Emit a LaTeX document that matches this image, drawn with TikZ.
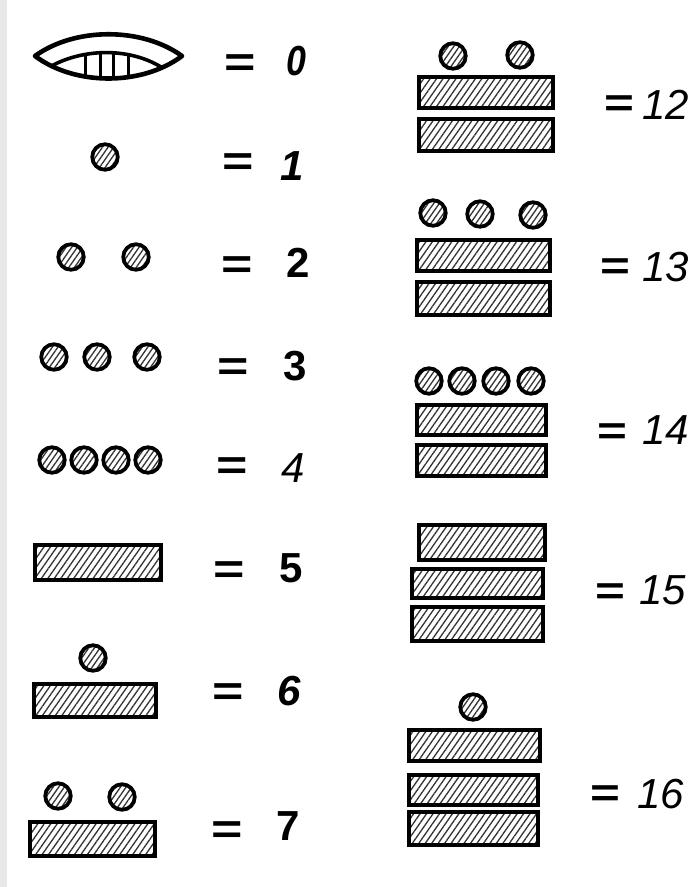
\documentclass[tikz,border=0pt]{standalone}
\usepackage{fontspec}
\setmainfont{Liberation Sans}
\usetikzlibrary{patterns.meta}
\newcommand{\wideeq}{\scalebox{1.28}[1]{=}}
\tikzset{
  hatch/.style={pattern={Lines[angle=55,distance=5.3pt,line width=1.3pt]},pattern color=black!80},
  dot/.style={circle,draw,line width=3.8pt,minimum size=25.5pt,inner sep=0pt,
    pattern={Lines[angle=55,distance=4.6pt,line width=1.3pt]},pattern color=black!80},
  bar/.style={rectangle,draw,line width=4pt,inner sep=0pt,hatch},
  eqB/.style={font=\fontsize{42}{42}\selectfont\bfseries,inner sep=0pt,anchor=base},
  eqR/.style={font=\fontsize{40}{40}\selectfont\bfseries,inner sep=0pt,anchor=base},
  numB/.style={font=\fontsize{42}{42}\selectfont\bfseries,inner sep=0pt,anchor=base},
  numBI/.style={font=\fontsize{42}{42}\selectfont\bfseries\itshape,inner sep=0pt,anchor=base},
  numI/.style={font=\fontsize{42}{42}\selectfont\itshape,inner sep=0pt,anchor=base},
  shell/.style={line width=4.6pt,line join=round},
}
\begin{document}
\begin{tikzpicture}[x=1pt,y=-1pt]
\useasboundingbox (0,0) rectangle (696,887);
\fill[white] (0,0) rectangle (696,887);
\fill[gray!18] (0,0) rectangle (7,887);

% ---- zero (shell)
\draw[shell] (35,56) .. controls (75,27) and (142,27) .. (182,56)
             .. controls (142,86) and (75,86) .. (35,56) -- cycle;
\begin{scope}
  \clip (52,65.7) .. controls (85,48) and (130,48) .. (161,67)
        .. controls (130,82) and (85,82) .. (52,65.7) -- cycle;
  \foreach \xx in {85,100,113,128} \draw[line width=3pt] (\xx,40) -- (\xx,90);
\end{scope}
\draw[line width=3.6pt] (52,65.7) .. controls (85,48) and (130,48) .. (161,67);
\node[eqB] (e0) at (240,76) {\wideeq};
\node[numBI] (n0) at (296,75) {\scalebox{0.85}[1]{0}};

% ---- one
\node[dot] (d1a) at (105,157) {};
\node[eqB] (e1) at (238,175) {\wideeq};
\node[numBI] (n1) at (292,180) {1};

% ---- two
\node[dot] (d2a) at (71,257) {};
\node[dot] (d2b) at (136,257) {};
\node[eqB] (e2) at (237,278) {\wideeq};
\node[numB] (n2) at (298,277) {2};

% ---- three
\node[dot] (d3a) at (54,357) {};
\node[dot] (d3b) at (97,357) {};
\node[dot] (d3c) at (147,357) {};
\node[eqB] (e3) at (233,380) {\wideeq};
\node[numB] (n3) at (295,380) {3};

% ---- four
\node[dot] (d4a) at (52,460) {};
\node[dot] (d4b) at (84,460) {};
\node[dot] (d4c) at (116,460) {};
\node[dot] (d4d) at (148,460) {};
\node[eqB] (e4) at (232,479) {\wideeq};
\node[numI] (n4) at (293,482) {4};

% ---- five
\node[bar,minimum width=126pt,minimum height=35pt] (b5a) at (98,562.5) {};
\node[eqB] (e5) at (229,583) {\wideeq};
\node[numB] (n5) at (291,582) {5};

% ---- six
\node[dot] (d6a) at (93,658) {};
\node[bar,minimum width=122pt,minimum height=33pt] (b6a) at (95,700.5) {};
\node[eqB] (e6) at (228,705) {\wideeq};
\node[numBI] (n6) at (289,705) {6};

% ---- seven
\node[dot] (d7a) at (58,796) {};
\node[dot] (d7b) at (122,797) {};
\node[bar,minimum width=125pt,minimum height=34pt] (b7a) at (92.5,839) {};
\node[eqB] (e7) at (227,843) {\wideeq};
\node[numB] (n7) at (288,840) {7};

% ---- twelve
\node[dot] (d12a) at (453,56) {};
\node[dot] (d12b) at (520,55) {};
\node[bar,minimum width=134pt,minimum height=31pt] (b12a) at (486,92.5) {};
\node[bar,minimum width=134pt,minimum height=32pt] (b12b) at (486,135) {};
\node[eqR] (e12) at (619,116) {\wideeq};
\node[numI] (n12) at (666,119) {12};

% ---- thirteen
\node[dot] (d13a) at (433,213) {};
\node[dot] (d13b) at (480,214) {};
\node[dot] (d13c) at (533,215) {};
\node[bar,minimum width=133pt,minimum height=31pt] (b13a) at (483.5,255.5) {};
\node[bar,minimum width=133pt,minimum height=33pt] (b13b) at (483.5,298.5) {};
\node[eqR] (e13) at (615,279) {\wideeq};
\node[numI] (n13) at (666,281) {13};

% ---- fourteen
\node[dot] (d14a) at (429,381) {};
\node[dot] (d14b) at (462,381) {};
\node[dot] (d14c) at (496,381) {};
\node[dot] (d14d) at (531,381) {};
\node[bar,minimum width=129pt,minimum height=30pt] (b14a) at (481.5,420) {};
\node[bar,minimum width=129pt,minimum height=31pt] (b14b) at (481.5,460.5) {};
\node[eqR] (e14) at (612,444) {\wideeq};
\node[numI] (n14) at (666,444) {14};

% ---- fifteen
\node[bar,minimum width=126pt,minimum height=35pt] (b15a) at (482,542.5) {};
\node[bar,minimum width=131pt,minimum height=29pt] (b15b) at (477.5,583.5) {};
\node[bar,minimum width=131pt,minimum height=34pt] (b15c) at (477.5,624) {};
\node[eqR] (e15) at (610,604) {\wideeq};
\node[numI] (n15) at (663,604) {15};

% ---- sixteen
\node[dot] (d16a) at (473,707) {};
\node[bar,minimum width=131pt,minimum height=31pt] (b16a) at (474.5,745.5) {};
\node[bar,minimum width=129pt,minimum height=30pt] (b16b) at (473.5,790) {};
\node[bar,minimum width=129pt,minimum height=33pt] (b16c) at (473.5,828.5) {};
\node[eqR] (e16) at (605,806) {\wideeq};
\node[numI] (n16) at (661,808) {16};
\end{tikzpicture}
\end{document}
